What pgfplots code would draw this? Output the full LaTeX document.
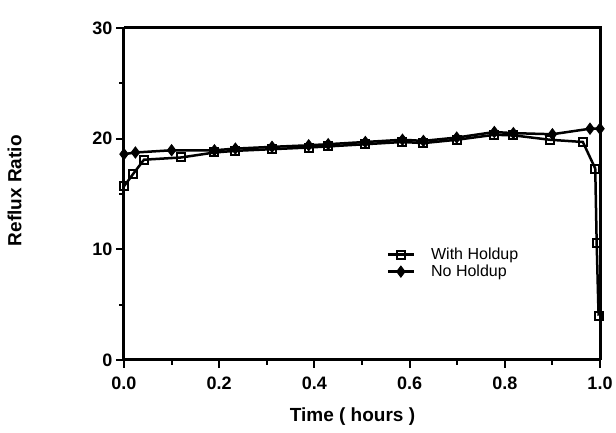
\documentclass[border=0pt]{standalone}
\usepackage{fontspec}
\setmainfont{Liberation Sans}
\usepackage{pgfplots}
\pgfplotsset{compat=1.18}
\begin{document}
\begin{tikzpicture}
\begin{axis}[
  name=ax,
  scale only axis,
  width=476pt, height=332pt,
  xmin=0, xmax=1, ymin=0, ymax=30,
  axis x line*=bottom, axis y line*=left,
  xtick={0,0.2,0.4,0.6,0.8,1.0},
  minor xtick={0.1,0.3,0.5,0.7,0.9},
  ytick={0,10,20,30},
  minor ytick={5,15,25},
  tick align=outside,
  major tick length=8pt, minor tick length=5pt,
  every tick/.style={line width=2pt, black},
  axis line style={line width=3pt},
  /pgf/number format/assume math mode=true,
  xticklabel style={yshift=-5pt, /pgf/number format/.cd, fixed, fixed zerofill, precision=1},
  tick label style={font=\bfseries\fontsize{18}{20}\selectfont},
  xlabel={Time ( hours )},
  ylabel={Reflux Ratio},
  every axis x label/.style={at={(axis description cs:0.48,-0.17)}, anchor=center, font=\bfseries\fontsize{19}{21}\selectfont},
  every axis y label/.style={at={(axis description cs:-0.23,0.51)}, rotate=90, anchor=center, font=\bfseries\fontsize{19}{21}\selectfont},
  legend style={draw=none, fill=none, at={(axis description cs:0.545,0.35)}, anchor=north west, font=\fontsize{16}{21}\selectfont, column sep=14pt},
  legend image code/.code={\draw[mark repeat=2, mark phase=2, #1] plot coordinates {(0pt,0pt) (13pt,0pt) (26pt,0pt)};},
  legend cell align=left,
  clip=false,
]
\addplot[black, line width=2.5pt, mark=square, mark size=4pt, mark options={fill=white, line width=2pt}] coordinates {
(0,15.7) (0.019,16.8) (0.042,18.1) (0.12,18.3) (0.19,18.75) (0.234,18.9) (0.311,19.05) (0.388,19.2) (0.429,19.3) (0.507,19.5) (0.585,19.7) (0.629,19.6) (0.699,19.9) (0.778,20.35) (0.818,20.3) (0.895,19.9) (0.964,19.7) (0.99,17.3) (0.993,10.6) (0.997,4.0)
};
\addlegendentry{With Holdup}
\addplot[black, line width=2.5pt, mark=diamond*, mark size=5.5pt, mark options={fill=black, line width=1pt}] coordinates {
(0,18.6) (0.024,18.75) (0.10,18.95) (0.19,18.95) (0.234,19.1) (0.311,19.26) (0.388,19.4) (0.429,19.5) (0.507,19.7) (0.585,19.9) (0.629,19.8) (0.699,20.1) (0.778,20.6) (0.818,20.5) (0.90,20.4) (0.979,20.9) (1.0,20.9)
};
\addlegendentry{No Holdup}
\draw[line width=3pt] (rel axis cs:0,1) -- (rel axis cs:1,1) -- (rel axis cs:1,0);
\end{axis}
\pgfresetboundingbox
\path[use as bounding box] ([xshift=-124pt,yshift=-73pt]ax.south west) rectangle ([xshift=16pt,yshift=28pt]ax.north east);
\end{tikzpicture}
\end{document}
